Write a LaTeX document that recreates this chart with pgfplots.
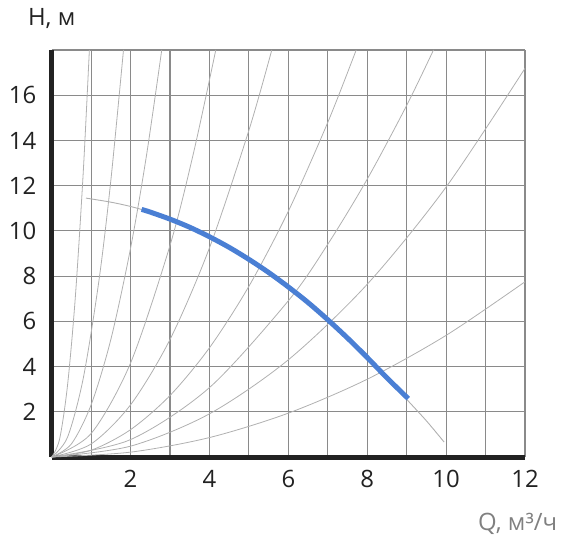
\documentclass[border=0pt]{standalone}
\usepackage{fontspec}
\setmainfont{Open Sans}
\usepackage{pgfplots}
\pgfplotsset{compat=1.18}
\definecolor{curveblue}{HTML}{4A7FD4}
\definecolor{gridgray}{HTML}{8A8A8A}
\definecolor{syscurve}{HTML}{B0B0B0}
\definecolor{axisblack}{HTML}{222222}

\begin{document}
\begin{tikzpicture}
\begin{axis}[
    scale only axis,
    width=473.3bp, height=407bp,
    xmin=0, xmax=12, ymin=0, ymax=18,
    axis x line*=bottom, axis y line*=left,
    axis line style={axisblack, line width=5bp},
    xtick={1,...,12},
    xticklabels={,2,,4,,6,,8,,10,,12},
    ytick={2,4,...,18},
    yticklabels={2,4,6,8,10,12,14,16,},
    major tick length=0pt,
    grid=major,
    major grid style={gridgray, line width=1.1bp},
    tick label style={font=\fontsize{24}{24}\selectfont, text=axisblack},
    /pgf/number format/assume math mode=true,
    xticklabel style={yshift=-10bp},
    yticklabel style={xshift=-12bp},
]
% system curves through the origin
\addplot[syscurve, line width=0.8bp, smooth] coordinates {(0,0) (0.2,0.79) (0.4,3.15) (0.6,7.09) (0.8,12.6) (0.955,18.0)};
\addplot[syscurve, line width=0.8bp, smooth] coordinates {(0,0) (0.4,0.87) (0.8,3.48) (1.2,7.83) (1.5,12.24) (1.82,18.0)};
\addplot[syscurve, line width=0.8bp, smooth] coordinates {(0,0) (0.5,0.58) (1,2.31) (1.5,5.20) (2,9.24) (2.4,13.3) (2.79,18.0)};
\addplot[syscurve, line width=0.8bp, smooth] coordinates {(0,0) (1,1.04) (2,4.16) (3,9.36) (3.6,13.48) (4.16,18.0)};
\addplot[syscurve, line width=0.8bp, smooth] coordinates {(0,0) (1,0.578) (2,2.31) (3,5.20) (4,9.25) (5,14.45) (5.58,18.0)};
\addplot[syscurve, line width=0.8bp, smooth] coordinates {(0,0) (1,0.30) (2,1.21) (3,2.72) (4,4.83) (5,7.55) (6,10.87) (7,14.80) (7.72,18.0)};
\addplot[syscurve, line width=0.8bp, smooth] coordinates {(0,0) (2,0.77) (4,3.07) (6,6.91) (7,9.41) (8,12.29) (9,15.55) (9.68,18.0)};
\addplot[syscurve, line width=0.8bp, smooth] coordinates {(0,0) (2,0.48) (4,1.91) (6,4.30) (8,7.64) (10,11.94) (12,17.19)};
\addplot[syscurve, line width=0.8bp, smooth] coordinates {(0,0) (2,0.215) (4,0.86) (6,1.94) (8,3.44) (10,5.38) (12,7.75)};
% pump curve, full range
\addplot[syscurve, line width=0.9bp, smooth] coordinates {(0.87,11.45) (1.5,11.27) (2,11.08) (2.5,10.83) (3,10.52) (3.5,10.16) (4,9.74) (4.5,9.27) (5,8.74) (5.5,8.16) (6,7.52) (6.5,6.83) (7,6.07) (7.5,5.26) (8,4.40) (8.5,3.50) (9,2.55) (9.5,1.60) (9.95,0.66)};
% pump curve, working range
\addplot[curveblue, line width=5bp, smooth] coordinates {(2.28,10.95) (2.5,10.83) (3,10.52) (3.5,10.16) (4,9.74) (4.5,9.27) (5,8.74) (5.5,8.16) (6,7.52) (6.5,6.83) (7,6.07) (7.5,5.26) (8,4.40) (8.5,3.50) (9.04,2.58)};
\end{axis}
\node[anchor=center, font=\fontsize{24}{24}\selectfont, text=axisblack] at ([yshift=31bp]current axis.north west) {H, м};
\node[anchor=base west, font=\fontsize{24}{24}\selectfont, text=gray] at ([xshift=423bp,yshift=-73bp]current axis.south west) {Q, м³/ч};
\path ([xshift=-51.7bp,yshift=-89bp]current axis.south west) rectangle ++(578bp,546bp);
\end{tikzpicture}
\end{document}
